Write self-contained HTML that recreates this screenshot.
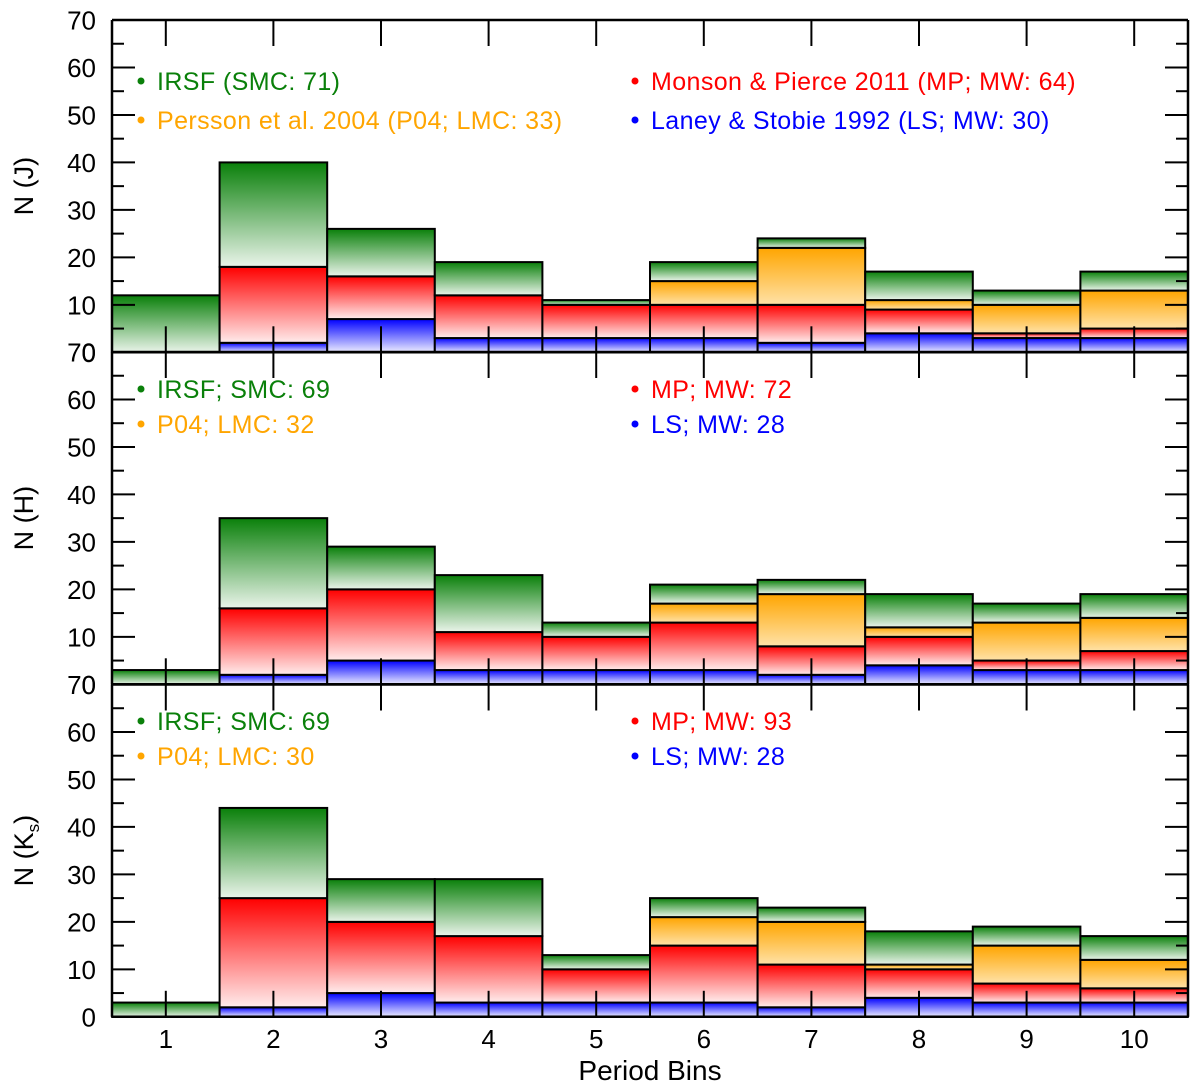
<!DOCTYPE html>
<html><head><meta charset="utf-8"><style>
body{margin:0;background:#fff}
svg{display:block;font-family:"Liberation Sans",Arial,sans-serif}
</style></head><body>
<svg id="chart" width="1200" height="1092" viewBox="0 0 1200 1092" xmlns="http://www.w3.org/2000/svg">
<defs>
<linearGradient id="g-green" x1="0" y1="0" x2="0" y2="1"><stop offset="0" stop-color="#0a800a"/><stop offset="1" stop-color="#eaf4ea"/></linearGradient>
<linearGradient id="g-red" x1="0" y1="0" x2="0" y2="1"><stop offset="0" stop-color="#ff0000"/><stop offset="1" stop-color="#ffecec"/></linearGradient>
<linearGradient id="g-orange" x1="0" y1="0" x2="0" y2="1"><stop offset="0" stop-color="#ffa500"/><stop offset="1" stop-color="#ffe2a8"/></linearGradient>
<linearGradient id="g-blue" x1="0" y1="0" x2="0" y2="1"><stop offset="0" stop-color="#0000ff"/><stop offset="1" stop-color="#ececff"/></linearGradient>
</defs>
</svg>
<script>
// Cumulative top values (stack order bottom→top: blue, red, orange, green)
const bins = [1,2,3,4,5,6,7,8,9,10];
const yTicks = [0,10,20,30,40,50,60,70];
const jBlue   = [0,2,7,3,3,3,2,4,3,3];
const jRed    = [0,18,16,12,10,10,10,9,4,5];
const jOrange = [0,0,0,0,0,15,22,11,10,13];
const jGreen  = [12,40,26,19,11,19,24,17,13,17];
const hBlue   = [0,2,5,3,3,3,2,4,3,3];
const hRed    = [0,16,20,11,10,13,8,10,5,7];
const hOrange = [0,0,0,0,0,17,19,12,13,14];
const hGreen  = [3,35,29,23,13,21,22,19,17,19];
const kBlue   = [0,2,5,3,3,3,2,4,3,3];
const kRed    = [0,25,20,17,10,15,11,10,7,6];
const kOrange = [0,0,0,0,0,21,20,11,15,12];
const kGreen  = [3,44,29,29,13,25,23,18,19,17];
const jLegend = ["IRSF (SMC: 71)","Persson et al. 2004 (P04; LMC: 33)","Monson & Pierce 2011 (MP; MW: 64)","Laney & Stobie 1992 (LS; MW: 30)"];
const hLegend = ["IRSF; SMC: 69","P04; LMC: 32","MP; MW: 72","LS; MW: 28"];
const kLegend = ["IRSF; SMC: 69","P04; LMC: 30","MP; MW: 93","LS; MW: 28"];

const NS="http://www.w3.org/2000/svg";
const svg=document.getElementById('chart');
const X0=112, X1=1188, PH=332.3, TOPS=[20,352,684.5];
const binW=(X1-X0)/bins.length;
const xOf=b=>X0+(b-0.5)*binW;
function mk(tag,attrs,parent){const e=document.createElementNS(NS,tag);for(const k in attrs)e.setAttribute(k,attrs[k]);(parent||svg).appendChild(e);return e;}

const panels=[
 {name:'j',top:TOPS[0],s:[jBlue,jRed,jOrange,jGreen],leg:jLegend,label:'N (J)',ly:[90,129]},
 {name:'h',top:TOPS[1],s:[hBlue,hRed,hOrange,hGreen],leg:hLegend,label:'N (H)',ly:[398,433]},
 {name:'ks',top:TOPS[2],s:[kBlue,kRed,kOrange,kGreen],leg:kLegend,label:'Ks',ly:[730,765]}
];
const grads=['url(#g-blue)','url(#g-red)','url(#g-orange)','url(#g-green)'];
const sNames=['ls','mp','p04','irsf'];
const legColors=['#0a800a','#ffa500','#ff0000','#0000ff'];

panels.forEach((p,pi)=>{
  const yOf=v=>p.top+PH-v*PH/70;
  const g=mk('g',{});
  
  
  bins.forEach((b,i)=>{
    let prev=0;
    p.s.forEach((arr,si)=>{
      const v=arr[i];
      if(v>prev){
        const r=mk('rect',{x:xOf(b)-binW/2,y:yOf(v),width:binW,height:yOf(prev)-yOf(v),fill:grads[si],stroke:'#000','stroke-width':2},g);
        
        
        prev=v;
      }
    });
  });
  mk('line',{x1:X0,y1:p.top,x2:X0,y2:p.top+PH,stroke:'#000','stroke-width':2.5},g);
  mk('line',{x1:X1,y1:p.top,x2:X1,y2:p.top+PH,stroke:'#000','stroke-width':2.5},g);
  mk('line',{x1:X0,y1:p.top,x2:X1,y2:p.top,stroke:'#000','stroke-width':2.5},g);
  mk('line',{x1:X0,y1:p.top+PH,x2:X1,y2:p.top+PH,stroke:'#000','stroke-width':2.5},g);
  for(let v=0;v<=70;v+=5){
    const y=yOf(v), L=(v%10===0)?23:12;
    mk('line',{x1:X0,y1:y,x2:X0+L,y2:y,stroke:'#000','stroke-width':2},g);
    mk('line',{x1:X1,y1:y,x2:X1-L,y2:y,stroke:'#000','stroke-width':2},g);
  }
  yTicks.forEach(v=>{
    const t=mk('text',{x:96,y:yOf(v)+9.5,'text-anchor':'end','font-size':26},g);
    t.textContent=v;
    
    
  });
  bins.forEach(b=>{
    mk('line',{x1:xOf(b),y1:p.top+PH,x2:xOf(b),y2:p.top+PH-26,stroke:'#000','stroke-width':2},g);
    mk('line',{x1:xOf(b),y1:p.top,x2:xOf(b),y2:p.top+26,stroke:'#000','stroke-width':2},g);
  });
  const ty=p.top+PH/2, tx=33;
  const tt=mk('text',{x:tx,y:ty,'text-anchor':'middle','font-size':27,transform:`rotate(-90 ${tx} ${ty})`},g);
  
  
  if(p.name==='ks'){tt.innerHTML='N (K<tspan font-size="17" dy="6">s</tspan><tspan dy="-6">)</tspan>';}
  else tt.textContent=p.label;
  const lx=[141,141,635,635], ly=[p.ly[0],p.ly[1],p.ly[0],p.ly[1]];
  p.leg.forEach((txt,li)=>{
    const c=mk('circle',{cx:lx[li],cy:ly[li]-9,r:3.5,fill:legColors[li]},g);
    
    
    const t=mk('text',{x:lx[li]+16,y:ly[li],'font-size':25,'letter-spacing':0.4,fill:legColors[li]},g);
    t.textContent=txt;
    
    
  });
});
bins.forEach(b=>{
  const t=mk('text',{x:xOf(b),y:1048,'text-anchor':'middle','font-size':26});
  t.textContent=b;
  
  
});
const xt=mk('text',{x:650,y:1080,'text-anchor':'middle','font-size':28});
xt.textContent='Period Bins';


</script>
</body></html>
